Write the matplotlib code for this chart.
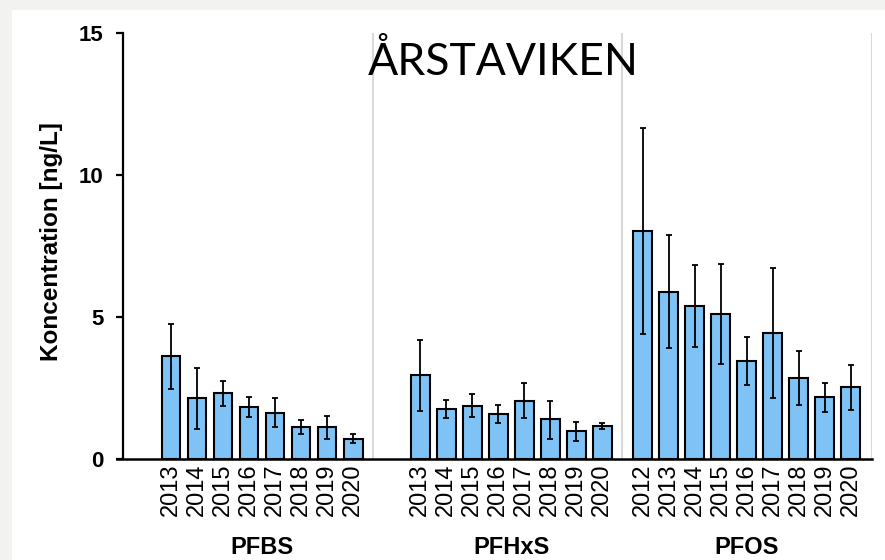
import numpy as np
import matplotlib
matplotlib.use("Agg")
import matplotlib.pyplot as plt
from matplotlib.patches import Rectangle

# data
groups = ["PFBS", "PFHxS", "PFOS"]

pfbs_years = ["2013", "2014", "2015", "2016", "2017", "2018", "2019", "2020"]
pfbs_mean = [3.63, 2.16, 2.34, 1.84, 1.63, 1.13, 1.13, 0.72]
pfbs_err_low = [1.15, 1.10, 0.46, 0.35, 0.51, 0.26, 0.43, 0.17]
pfbs_err_high = [1.12, 1.03, 0.42, 0.33, 0.51, 0.24, 0.38, 0.16]

pfhxs_years = ["2013", "2014", "2015", "2016", "2017", "2018", "2019", "2020"]
pfhxs_mean = [2.96, 1.77, 1.87, 1.60, 2.05, 1.41, 0.99, 1.16]
pfhxs_err_low = [1.26, 0.31, 0.40, 0.34, 0.62, 0.69, 0.37, 0.11]
pfhxs_err_high = [1.23, 0.31, 0.41, 0.29, 0.61, 0.64, 0.31, 0.12]

pfos_years = ["2012", "2013", "2014", "2015", "2016", "2017", "2018", "2019", "2020"]
pfos_mean = [8.04, 5.89, 5.39, 5.12, 3.46, 4.44, 2.84, 2.19, 2.54]
pfos_err_low = [3.64, 1.99, 1.44, 1.77, 0.84, 2.30, 0.94, 0.52, 0.80]
pfos_err_high = [3.60, 2.00, 1.43, 1.75, 0.84, 2.30, 0.97, 0.49, 0.77]

title = "ÅRSTAVIKEN"
ylabel = "Koncentration [ng/L]"


def main():
    fig = plt.figure(figsize=(8.85, 5.6), dpi=100)
    fig.patch.set_facecolor("white")
    # light gray frame strip on top and left
    fig.patches.append(Rectangle((0, 0), 12 / 885, 1, transform=fig.transFigure,
                                 facecolor="#f2f2f0", edgecolor="none", zorder=0))
    fig.patches.append(Rectangle((0, 1 - 10 / 560), 1, 10 / 560, transform=fig.transFigure,
                                 facecolor="#f2f2f0", edgecolor="none", zorder=0))

    ax = fig.add_axes([123 / 885, 101 / 560, 749 / 885, 426 / 560])

    series = [
        (pfbs_years, pfbs_mean, pfbs_err_low, pfbs_err_high),
        (pfhxs_years, pfhxs_mean, pfhxs_err_low, pfhxs_err_high),
        (pfos_years, pfos_mean, pfos_err_low, pfos_err_high),
    ]
    starts = [0.0, 9.58, 18.15]
    separators = [7.77, 17.35, 26.96]

    ticks, labels = [], []
    for (years, mean, lo, hi), start, name in zip(series, starts, groups):
        x = start + np.arange(len(years))
        ax.bar(x, mean, width=0.73, color="#7fc3f6", edgecolor="black",
               linewidth=1.5, zorder=3)
        ax.errorbar(x, mean, yerr=[lo, hi], fmt="none", ecolor="black",
                    elinewidth=1.3, capsize=2, capthick=1.3, zorder=4)
        ticks.extend(x)
        labels.extend(years)
        ax.text(x.mean(), -3.1, name, ha="center", va="center",
                fontsize=17, fontweight="bold", family="Liberation Sans")

    for s in separators:
        ax.axvline(s, color="#d9d9d9", linewidth=1.5, zorder=1)

    ax.set_xlim(-1.846, 26.96)
    ax.set_ylim(0, 15)
    ax.set_xticks(ticks)
    ax.set_xticklabels(labels, rotation=90, fontsize=17, family="Liberation Sans")
    ax.tick_params(axis="x", length=0, pad=3)
    ax.set_yticks([0, 5, 10, 15])
    ax.set_yticklabels(["0", "5", "10", "15"], fontsize=16,
                       fontweight="bold", family="Liberation Sans")
    ax.tick_params(axis="y", length=5, width=1.6, direction="out", pad=9)

    for side in ["top", "right"]:
        ax.spines[side].set_visible(False)
    ax.spines["left"].set_linewidth(1.6)
    ax.spines["bottom"].set_linewidth(1.8)
    ax.spines["bottom"].set_bounds(-2.08, 26.96)
    ax.spines["bottom"].set_zorder(5)

    fig.text(52 / 885, 1 - 242 / 560, ylabel, rotation=90, ha="center", va="center",
             fontsize=17.5, fontweight="bold", family="Liberation Sans")
    fig.text(503 / 885, 1 - 75 / 560, title, ha="center", va="baseline",
             fontsize=32, family="Lato")

    fig.savefig("out.png", dpi=100)


if __name__ == "__main__":
    main()
